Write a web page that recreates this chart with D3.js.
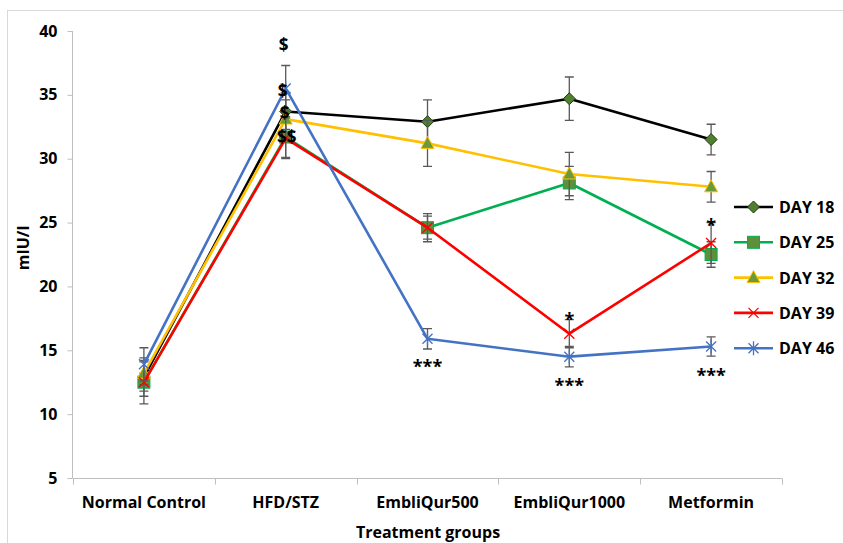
<!DOCTYPE html>
<html><head><meta charset="utf-8">
<script src="https://cdn.jsdelivr.net/npm/d3@7"></script>
<style>body{margin:0;background:#fff}svg{display:block}text{font-family:"Open Sans",sans-serif;font-weight:bold;fill:#000}</style>
</head><body><svg id="c" width="843" height="543"></svg>
<script>
const categories = ["Normal Control","HFD/STZ","EmbliQur500","EmbliQur1000","Metformin"];
const seriesNames = ["DAY 18","DAY 25","DAY 32","DAY 39","DAY 46"];
const day18 = [12.9, 33.7, 32.9, 34.7, 31.5];
const day25 = [12.5, 31.7, 24.6, 28.1, 22.5];
const day32 = [13.2, 33.1, 31.2, 28.8, 27.8];
const day39 = [12.5, 31.6, 24.6, 16.3, 23.4];
const day46 = [13.9, 35.5, 15.9, 14.5, 15.3];
const err18 = [1.5, 1.4, 1.7, 1.7, 1.2];
const err25 = [0.7, 1.6, 0.9, 1.3, 1.0];
const err32 = [0.9, 1.5, 1.8, 1.7, 1.2];
const err39 = [1.7, 1.6, 1.1, 1.1, 1.6];
const err46 = [1.3, 1.8, 0.8, 0.8, 0.75];
const yTicks = [5,10,15,20,25,30,35,40];
const annotations = [
  {cat:"HFD/STZ", v:38.8, text:"$", dx:-2},
  {cat:"HFD/STZ", v:35.2, text:"$", dx:-3},
  {cat:"HFD/STZ", v:33.5, text:"$", dx:-1},
  {cat:"HFD/STZ", v:31.6, text:"$$", dx:1},
  {cat:"EmbliQur500", v:14.0, text:"***", dx:0},
  {cat:"EmbliQur1000", v:17.7, text:"*", dx:0},
  {cat:"EmbliQur1000", v:12.5, text:"***", dx:0},
  {cat:"Metformin", v:25.0, text:"*", dx:0},
  {cat:"Metformin", v:13.3, text:"***", dx:0}
];

const series = [
  {name:seriesNames[0], vals:day18, err:err18, color:"#000000", marker:"diamond"},
  {name:seriesNames[1], vals:day25, err:err25, color:"#00b050", marker:"square"},
  {name:seriesNames[2], vals:day32, err:err32, color:"#ffc000", marker:"triangle"},
  {name:seriesNames[3], vals:day39, err:err39, color:"#ff0000", marker:"x"},
  {name:seriesNames[4], vals:day46, err:err46, color:"#4472c4", marker:"star"}
];

const FONT = "Open Sans";
const FS = 16;
const svg = d3.select("#c");
svg.append("rect").attr("x",7.5).attr("y",10.5).attr("width",850).attr("height",550)
  .attr("fill","none").attr("stroke","#d9d9d9").attr("stroke-width",1);

const x = d3.scaleBand().domain(categories).range([73,782]).padding(0);
const y = d3.scaleLinear().domain([5,40]).range([478,31]);
const cx = c => x(c) + x.bandwidth()/2;

const yAxis = svg.append("g").attr("transform","translate(72.5,0)")
  .call(d3.axisLeft(y).tickValues(yTicks).tickSize(5).tickPadding(10).tickFormat(d3.format("d")));
yAxis.select(".domain").attr("stroke","#bfbfbf").attr("d","M0,31V478.5");
yAxis.selectAll(".tick line").attr("stroke","#bfbfbf");
yAxis.selectAll(".tick text").attr("font-size",FS).attr("font-family",FONT).attr("font-weight","bold").attr("fill","#000");

const xAxis = svg.append("g").attr("transform","translate(0,478.5)")
  .call(d3.axisBottom(x).tickSize(0).tickPadding(18));
xAxis.select(".domain").attr("stroke","#bfbfbf").attr("d","M73,0H782");
xAxis.selectAll(".tick text").attr("font-size",FS).attr("font-family",FONT).attr("font-weight","bold").attr("fill","#000");
const bounds = categories.map(c=>x(c)).concat([x(categories[categories.length-1])+x.bandwidth()]);
xAxis.selectAll("line.bt").data(bounds).join("line").attr("class","bt")
  .attr("x1",d=>Math.round(d)+0.5).attr("x2",d=>Math.round(d)+0.5).attr("y1",0).attr("y2",6).attr("stroke","#bfbfbf");

svg.append("text").attr("x",428).attr("y",538).attr("text-anchor","middle").attr("font-size",FS).text("Treatment groups");
svg.append("text").attr("transform","translate(29,248) rotate(-90)").attr("text-anchor","middle").attr("font-size",FS).text("mIU/l");

function drawMarker(g, type, color, px, py){
  if(type==="diamond"){
    g.append("path").attr("d",`M${px},${py-6}L${px+6},${py}L${px},${py+6}L${px-6},${py}Z`)
      .attr("fill","#4f7f2f").attr("stroke","#1e3a10").attr("stroke-width",1);
  } else if(type==="square"){
    g.append("rect").attr("x",px-6).attr("y",py-6).attr("width",12).attr("height",12)
      .attr("fill","#5e8f3a").attr("stroke","#00b050").attr("stroke-width",1);
  } else if(type==="triangle"){
    g.append("path").attr("d",`M${px},${py-7}L${px+6.5},${py+5}L${px-6.5},${py+5}Z`)
      .attr("fill","#6a9a3a").attr("stroke","#ffc000").attr("stroke-width",1);
  } else if(type==="x"){
    g.append("path").attr("d",`M${px-5},${py-5}L${px+5},${py+5}M${px-5},${py+5}L${px+5},${py-5}`)
      .attr("stroke",color).attr("stroke-width",1.3).attr("fill","none");
  } else if(type==="star"){
    g.append("path").attr("d",`M${px-5},${py-5}L${px+5},${py+5}M${px-5},${py+5}L${px+5},${py-5}M${px},${py-7}L${px},${py+7}`)
      .attr("stroke",color).attr("stroke-width",1.3).attr("fill","none");
  }
}

const line = d3.line().x((d,i)=>cx(categories[i])).y(d=>y(d));
series.forEach(s=>{
  const g = svg.append("g");
  s.vals.forEach((v,i)=>{
    const px = cx(categories[i]);
    const e = s.err[i];
    g.append("path").attr("d",`M${px},${y(v+e)}V${y(v-e)}M${px-4.5},${y(v+e)}H${px+4.5}M${px-4.5},${y(v-e)}H${px+4.5}`)
      .attr("stroke","#595959").attr("stroke-width",1.3).attr("fill","none");
  });
  g.append("path").datum(s.vals).attr("d",line).attr("fill","none")
    .attr("stroke",s.color).attr("stroke-width",2.6).attr("stroke-linejoin","round");
  s.vals.forEach((v,i)=>drawMarker(g,s.marker,s.color,cx(categories[i]),y(v)));
});

svg.append("g").selectAll("text").data(annotations).join("text")
  .attr("x",d=>cx(d.cat)+d.dx).attr("y",d=>y(d.v)+(d.text.startsWith("*")?5:0)).attr("text-anchor","middle")
  .attr("dominant-baseline","middle").attr("font-size",d=>d.text.startsWith("$")?17:18)
  .attr("font-family",d=>d.text.startsWith("$")?FONT:"DejaVu Sans").text(d=>d.text);

const lg = svg.append("g");
series.forEach((s,i)=>{
  const ly = 207 + i*35.3;
  lg.append("line").attr("x1",734).attr("x2",773).attr("y1",ly).attr("y2",ly)
    .attr("stroke",s.color).attr("stroke-width",2.6);
  drawMarker(lg,s.marker,s.color,753.5,ly);
  lg.append("text").attr("x",779).attr("y",ly).attr("dominant-baseline","central")
    .attr("font-size",FS).text(s.name);
});
</script></body></html>
